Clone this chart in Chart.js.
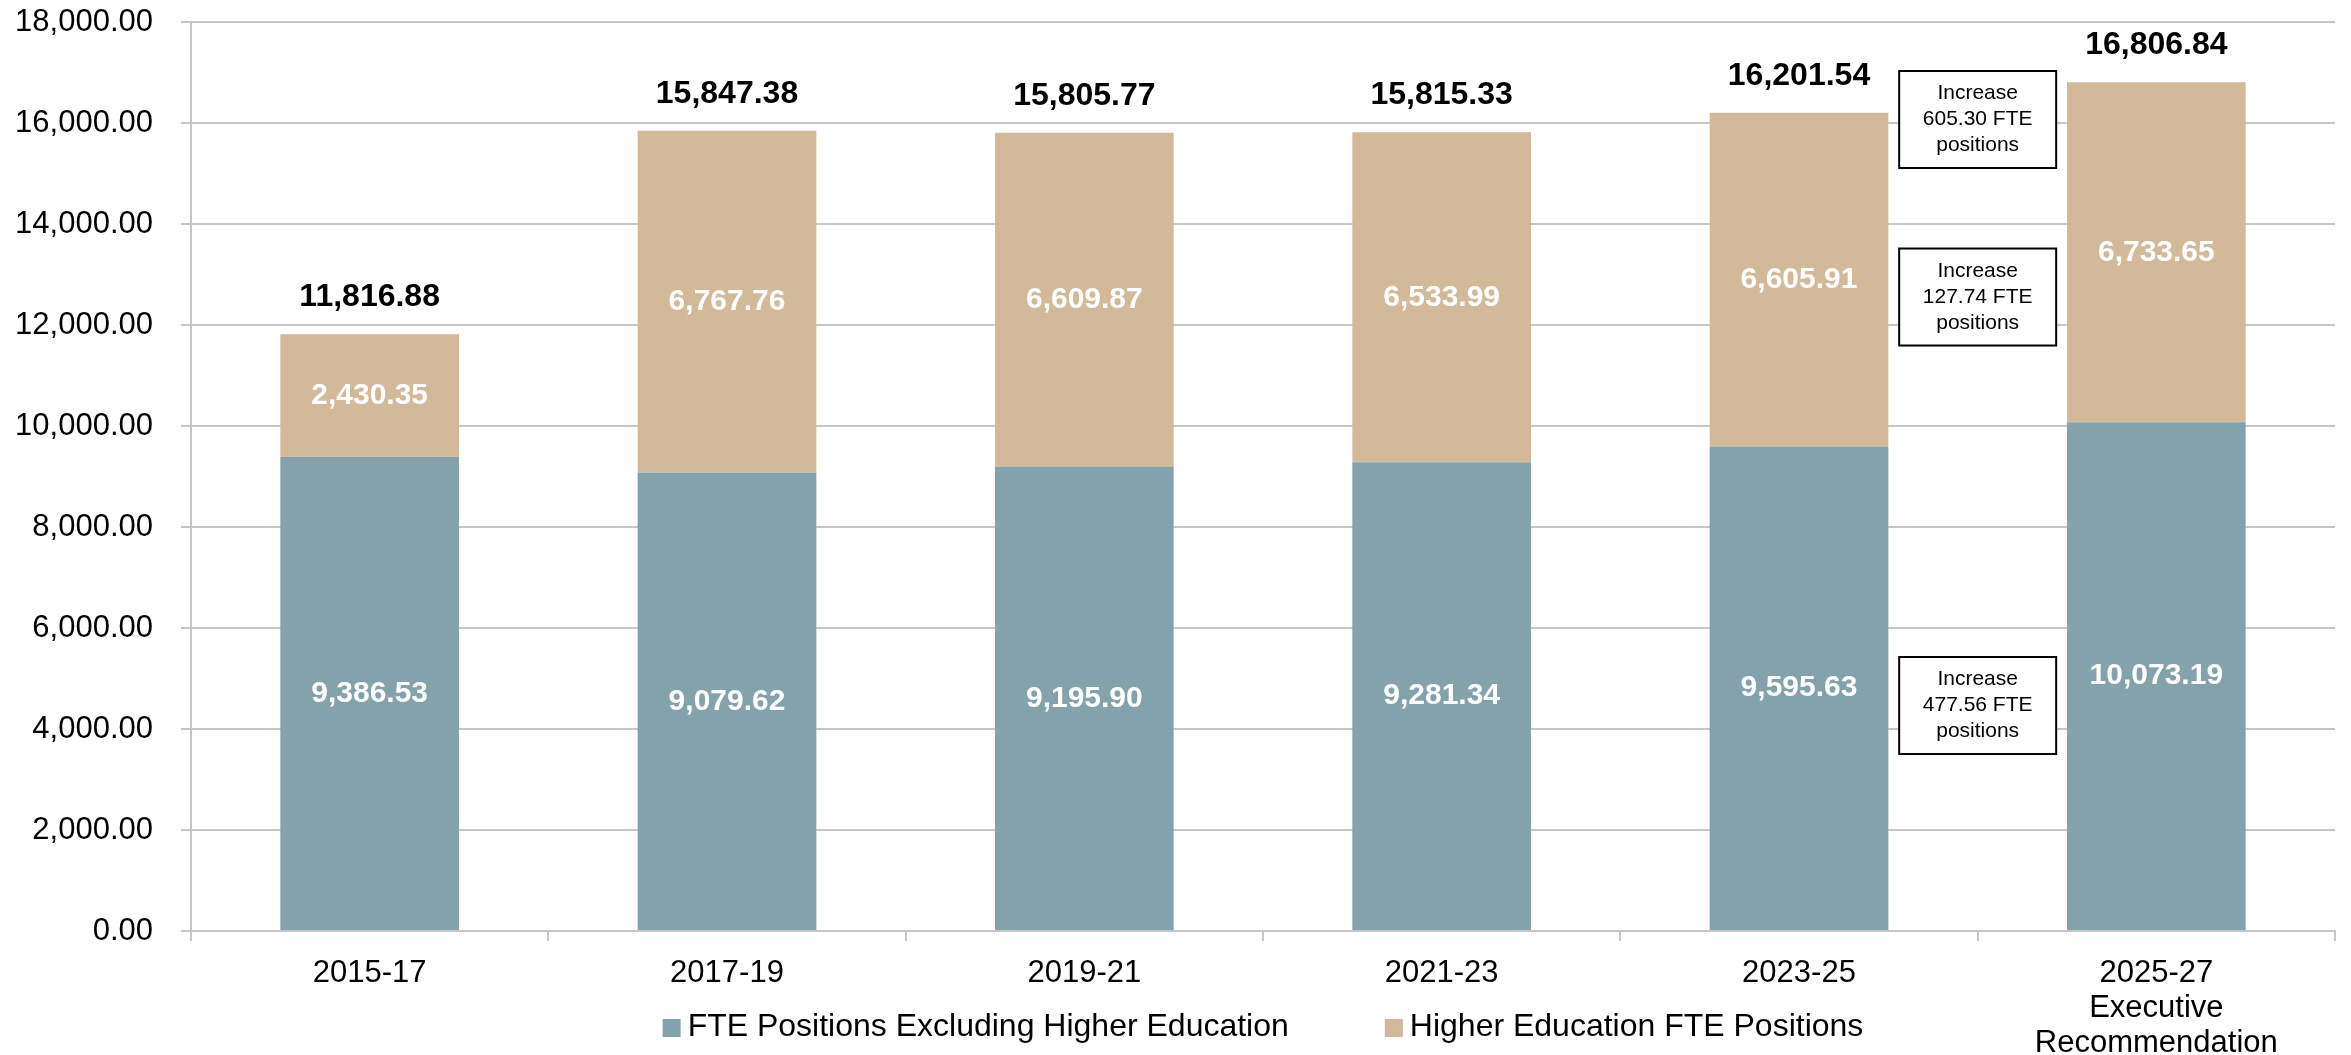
<!DOCTYPE html>
<html>
<head>
<meta charset="utf-8">
<script src="https://cdn.jsdelivr.net/npm/chart.js@4/dist/chart.umd.min.js"></script>
<style>
  html, body { margin: 0; padding: 0; background: #fff; }
  #wrap { width: 2351px; height: 1055px; }
</style>
</head>
<body>
<div id="wrap"><canvas id="fte-chart" width="2351" height="1055"></canvas></div>
<script>
// data
const categories = ['2015-17', '2017-19', '2019-21', '2021-23', '2023-25', ['2025-27', 'Executive', 'Recommendation']];
const excludingHigherEd = [9386.53, 9079.62, 9195.90, 9281.34, 9595.63, 10073.19];
const higherEd = [2430.35, 6767.76, 6609.87, 6533.99, 6605.91, 6733.65];
const seriesNames = ['FTE Positions Excluding Higher Education', 'Higher Education FTE Positions'];
const yTicks = [0, 2000, 4000, 6000, 8000, 10000, 12000, 14000, 16000, 18000];

// callout boxes: text lines and the y value they sit at (between the last two bars)
const noteLines = [
    ['Increase', '605.30 FTE', 'positions'],
    ['Increase', '127.74 FTE', 'positions'],
    ['Increase', '477.56 FTE', 'positions'],
];
const noteValues = [16069, 12554, 4465];

const FONT = '"Liberation Sans", Arial, sans-serif';
const teal = '#84a2ab';
const tan = '#d1b999';

const fmt = v => v.toLocaleString('en-US', { minimumFractionDigits: 2, maximumFractionDigits: 2 });

const labelsPlugin = {
    id: 'labels',
    afterDatasetsDraw(chart) {
        const ctx = chart.ctx;
        const m0 = chart.getDatasetMeta(0);
        const m1 = chart.getDatasetMeta(1);
        ctx.save();
        ctx.textAlign = 'center';
        ctx.textBaseline = 'middle';
        ctx.font = 'bold 30px ' + FONT;
        [m0, m1].forEach((meta, di) => {
            const vals = chart.data.datasets[di].data;
            meta.data.forEach((bar, i) => {
                ctx.fillStyle = '#fff';
                ctx.fillText(fmt(vals[i]), bar.x, (bar.y + bar.base) / 2);
            });
        });
        ctx.font = 'bold 32px ' + FONT;
        m1.data.forEach((bar, i) => {
            const total = excludingHigherEd[i] + higherEd[i];
            ctx.fillStyle = '#000';
            ctx.fillText(fmt(total), bar.x, bar.y - 37);
        });

        // callouts
        const xs = chart.scales.x, ys = chart.scales.y;
        const cx = xs.getPixelForValue(4.5);
        ctx.font = '21px ' + FONT;
        noteLines.forEach((lines, k) => {
            const cy = ys.getPixelForValue(noteValues[k]);
            const w = 157, h = 97;
            ctx.fillStyle = '#fff';
            ctx.fillRect(cx - w / 2, cy - h / 2, w, h);
            ctx.strokeStyle = '#000';
            ctx.lineWidth = 2;
            ctx.strokeRect(cx - w / 2, cy - h / 2, w, h);
            ctx.fillStyle = '#000';
            lines.forEach((t, j) => ctx.fillText(t, cx, cy + (j - 1) * 26));
        });

        // legend
        ctx.font = '32px ' + FONT;
        const sq = 18, gapIn = 7, gapOut = 96;
        const widths = seriesNames.map(s => ctx.measureText(s).width);
        const total = widths.reduce((a, b) => a + b, 0) + 2 * (sq + gapIn) + gapOut;
        let x = (chart.chartArea.left + chart.chartArea.right) / 2 - total / 2;
        const ly = 1027;
        ctx.textAlign = 'left';
        [teal, tan].forEach((c, k) => {
            ctx.fillStyle = c;
            ctx.fillRect(x, ly - sq / 2 + 1, sq, sq);
            x += sq + gapIn;
            ctx.fillStyle = '#000';
            ctx.fillText(seriesNames[k], x, ly);
            x += widths[k] + gapOut;
        });
        ctx.restore();
    }
};

new Chart(document.getElementById('fte-chart').getContext('2d'), {
    type: 'bar',
    data: {
        labels: categories,
        datasets: [
            { label: seriesNames[0], data: excludingHigherEd, backgroundColor: teal },
            { label: seriesNames[1], data: higherEd, backgroundColor: tan },
        ],
    },
    options: {
        responsive: false,
        animation: false,
        devicePixelRatio: 1,
        layout: { padding: { left: 0, right: 16, top: 22, bottom: 0 } },
        datasets: { bar: { barPercentage: 1, categoryPercentage: 0.5 } },
        plugins: { legend: { display: false }, tooltip: { enabled: false } },
        scales: {
            x: {
                stacked: true,
                grid: { display: true, drawOnChartArea: false, drawTicks: true, tickLength: 10, color: '#c6c6c6', lineWidth: 2, offset: true },
                border: { color: '#c6c6c6', width: 2 },
                ticks: { color: '#000', font: { family: FONT, size: 31, lineHeight: 1.13 }, padding: 15, maxRotation: 0, autoSkip: false },
                afterFit(s) { s.height = 124; },
            },
            y: {
                stacked: true,
                min: 0,
                max: 18000,
                afterBuildTicks(s) { s.ticks = yTicks.map(v => ({ value: v })); },
                grid: { color: '#c6c6c6', lineWidth: 2, tickLength: 10 },
                border: { color: '#c6c6c6', width: 2 },
                ticks: { color: '#000', font: { family: FONT, size: 31 }, padding: 28, callback: v => fmt(v) },
                afterFit(s) { s.width = 191; s.paddingTop = 0; s.paddingBottom = 0; },
            },
        },
    },
    plugins: [labelsPlugin],
});
</script>
</body>
</html>
